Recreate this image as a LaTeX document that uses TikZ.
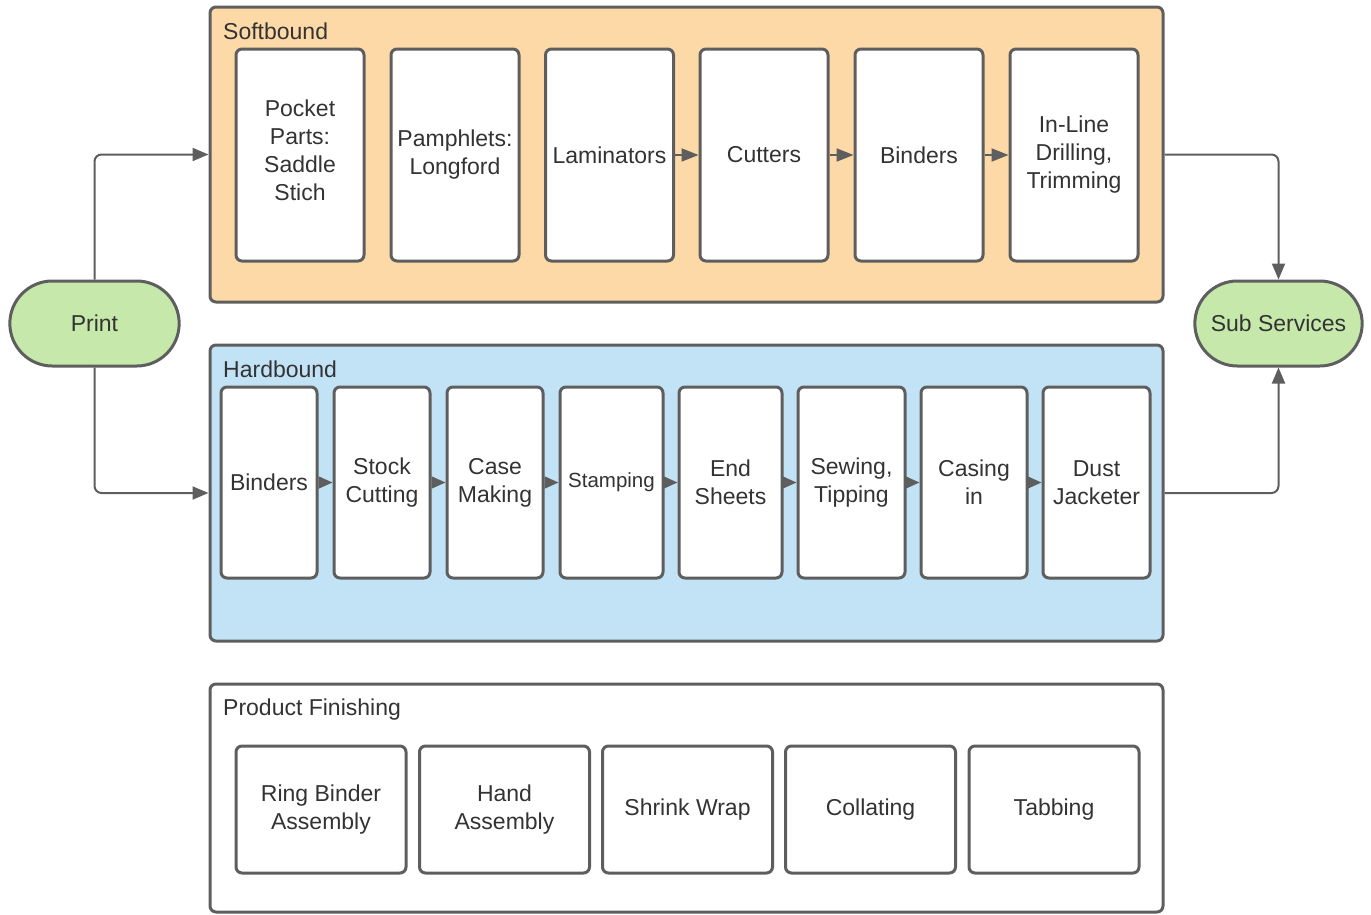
\documentclass[tikz,border=0pt]{standalone}
\usepackage{fontspec}
\setmainfont{Liberation Sans}
\usetikzlibrary{arrows.meta,shapes.misc}
\definecolor{lc}{HTML}{5E5E5E}
\definecolor{tc}{HTML}{333333}
\definecolor{softfill}{HTML}{FDD9A8}
\definecolor{hardfill}{HTML}{C1E3F5}
\definecolor{greenfill}{HTML}{C6E8AA}
\tikzset{
  cont/.style={draw=lc, line width=3pt, rounded corners=6pt},
  stepbox/.style={draw=lc, line width=3pt, fill=white, rounded corners=6pt, inner sep=0pt, align=center, text=tc, font=\fontsize{23}{28}\selectfont},
  term/.style={rounded rectangle, draw=lc, line width=3pt, fill=greenfill, minimum width=176pt, minimum height=85pt, text=tc, font=\fontsize{23}{28}\selectfont},
  title/.style={anchor=base west, inner sep=0pt, text=tc, font=\fontsize{23}{27}\selectfont},
  conn/.style={draw=lc, line width=2pt, rounded corners=7pt, -{Triangle[length=16pt,width=13pt]}},
  sconn/.style={draw=lc, line width=2pt, -{Triangle[length=17pt,width=13pt]}},
  hconn/.style={draw=lc, line width=2pt, -{Triangle[length=14pt,width=12pt]}}
}
\begin{document}
\begin{tikzpicture}[x=1pt,y=-1pt]
\useasboundingbox (0,0) rectangle (1371,914);
% containers
\node[cont, fill=softfill, minimum width=953pt, minimum height=295pt] (soft) at (686.5,154.5) {};
\node[cont, fill=hardfill, minimum width=953pt, minimum height=296pt] (hard) at (686.5,493) {};
\node[cont, fill=white, minimum width=953pt, minimum height=228pt] (fin) at (686.5,798) {};
\node[title] (softlbl) at (223,39) {Softbound};
\node[title] (hardlbl) at (223,377) {Hardbound};
\node[title] (finlbl) at (223,715) {Product Finishing};
% softbound boxes
\node[stepbox, minimum width=128pt, minimum height=212pt] (s1) at (300,155) {Pocket\\Parts:\\Saddle\\Stich\\[-18pt]\mbox{}};
\foreach \n/\x/\t in {s2/455/{Pamphlets:\\Longford}, s3/609.5/{Laminators}, s4/764/{Cutters}, s5/919/{Binders}, s6/1074/{In-Line\\Drilling,\\Trimming}}
  \node[stepbox, minimum width=128pt, minimum height=212pt] (\n) at (\x,155) {\t};
\draw[sconn] (s3.east) -- (s4.west);
\draw[sconn] (s4.east) -- (s5.west);
\draw[sconn] (s5.east) -- (s6.west);
% hardbound boxes
\foreach \n/\x/\w/\t in {h1/269/96/{Binders}, h2/382/96/{Stock\\Cutting}, h3/495/96/{Case\\Making}, h5/730.5/103/{End\\Sheets}, h6/851.5/107/{Sewing,\\Tipping}, h7/974/106/{Casing\\in}, h8/1096.5/107/{Dust\\Jacketer}}
  \node[stepbox, minimum width=\w pt, minimum height=191pt] (\n) at (\x,482.5) {\t};
\node[stepbox, minimum width=103pt, minimum height=191pt, font=\fontsize{20.5}{25}\selectfont] (h4) at (611.5,482.5) {Stamping};
\foreach \a/\b in {h1/h2,h2/h3,h3/h4,h4/h5,h5/h6,h6/h7,h7/h8}
  \draw[hconn] (\a.east) -- (\b.west);
% finishing boxes
\foreach \n/\x/\t in {f1/321/{Ring Binder\\Assembly}, f2/504.5/{Hand\\Assembly}, f3/687.5/{Shrink Wrap}, f4/870.5/{Collating}, f5/1054/{Tabbing}}
  \node[stepbox, minimum width=170pt, minimum height=127pt] (\n) at (\x,809.5) {\t};
% terminals
\node[term] (print) at (94.5,323.5) {Print};
\node[term, minimum width=174pt] (sub) at (1278.5,323.5) {Sub Services};
% main connectors
\draw[conn] (print.north) |- (soft.west);
\draw[conn] (print.south) |- (hard.west);
\draw[conn] (soft.east) -| (sub.north);
\draw[conn] (hard.east) -| (sub.south);
\end{tikzpicture}
\end{document}
